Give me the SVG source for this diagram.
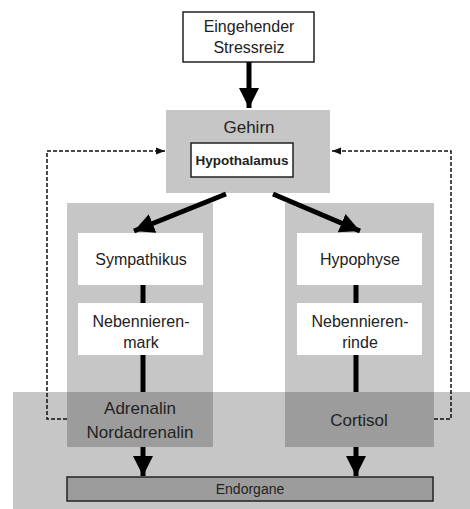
<svg xmlns="http://www.w3.org/2000/svg" width="470" height="509" viewBox="0 0 470 509">
<style>
.t{font-family:"Liberation Sans",Arial,sans-serif;fill:#222;text-anchor:middle}
.lg{fill:#c6c6c6}
.dk{fill:#9c9c9c}
.wb{fill:#fff}
.thick{stroke:#000;stroke-width:5;fill:none}
.dash{stroke:#111;stroke-width:1.5;fill:none;stroke-dasharray:4 2}
</style>
<defs>
<marker id="big" viewBox="0 0 10 10" refX="10" refY="5" markerWidth="4" markerHeight="4.4" orient="auto" markerUnits="strokeWidth">
<path d="M0,0 L10,5 L0,10 Z" fill="#000"/>
</marker>
<marker id="small" viewBox="0 0 10 10" refX="10" refY="5" markerWidth="6" markerHeight="6" orient="auto" markerUnits="strokeWidth">
<path d="M0,1 L10,5 L0,9 Z" fill="#111"/>
</marker>
</defs>
<rect x="0" y="0" width="470" height="509" fill="#fff"/>
<!-- bottom band -->
<g id="band"><rect class="lg" x="13" y="392" width="457" height="117"/></g>
<g id="gehirn">
<rect class="lg" x="166" y="110" width="164" height="83"/>
<text class="t" x="249" y="133" font-size="17">Gehirn</text>
</g>
<g id="hypothalamus">
<rect x="191" y="143" width="102" height="34" fill="#fff" stroke="#222" stroke-width="1.5"/>
<text class="t" x="242" y="165" font-size="13.5" font-weight="bold">Hypothalamus</text>
</g>
<g id="leftcol"><rect class="lg" x="67" y="203" width="146" height="189"/></g>
<g id="rightcol"><rect class="lg" x="285" y="203" width="149" height="189"/></g>
<g id="stress">
<rect x="183" y="12" width="131" height="50" fill="#fff" stroke="#222" stroke-width="1.5"/>
<text class="t" x="249" y="32" font-size="16">Eingehender</text>
<text class="t" x="249" y="53" font-size="16">Stressreiz</text>
</g>
<g id="sympathikus">
<rect class="wb" x="78" y="233" width="125" height="52"/>
<text class="t" x="141" y="265" font-size="16">Sympathikus</text>
</g>
<g id="nnmark">
<rect class="wb" x="78" y="303" width="125" height="52"/>
<text class="t" x="141" y="327" font-size="16">Nebennieren-</text>
<text class="t" x="141" y="348" font-size="16">mark</text>
</g>
<g id="hypophyse">
<rect class="wb" x="297" y="233" width="125" height="52"/>
<text class="t" x="360" y="265" font-size="16">Hypophyse</text>
</g>
<g id="nnrinde">
<rect class="wb" x="297" y="303" width="125" height="52"/>
<text class="t" x="360" y="327" font-size="16">Nebennieren-</text>
<text class="t" x="360" y="348" font-size="16">rinde</text>
</g>
<g id="adrenalin">
<rect class="dk" x="67" y="392" width="146" height="55"/>
<text class="t" x="140" y="414" font-size="17">Adrenalin</text>
<text class="t" x="140" y="438" font-size="17">Nordadrenalin</text>
</g>
<g id="cortisol">
<rect class="dk" x="285" y="392" width="149" height="55"/>
<text class="t" x="359" y="426" font-size="17">Cortisol</text>
</g>
<g id="endorgane">
<rect class="dk" x="67" y="477" width="366" height="24" stroke="#222" stroke-width="1.5"/>
<text class="t" x="250" y="494" font-size="14">Endorgane</text>
</g>
<g id="connectors">
<line class="thick" x1="249" y1="62" x2="249" y2="108" marker-end="url(#big)"/>
<line class="thick" x1="226" y1="194" x2="134" y2="231" marker-end="url(#big)"/>
<line class="thick" x1="273" y1="194" x2="360" y2="231" marker-end="url(#big)"/>
<line class="thick" x1="143" y1="285" x2="143" y2="303"/>
<line class="thick" x1="143" y1="355" x2="143" y2="392"/>
<line class="thick" x1="356" y1="285" x2="356" y2="303"/>
<line class="thick" x1="356" y1="355" x2="356" y2="392"/>
<line class="thick" x1="143" y1="447" x2="143" y2="476" marker-end="url(#big)"/>
<line class="thick" x1="356" y1="447" x2="356" y2="476" marker-end="url(#big)"/>
<polyline class="dash" points="67,419 47,419 47,151 165,151" marker-end="url(#small)"/>
<polyline class="dash" points="434,419 451,419 451,151 332,151" marker-end="url(#small)"/>
</g>
</svg>
